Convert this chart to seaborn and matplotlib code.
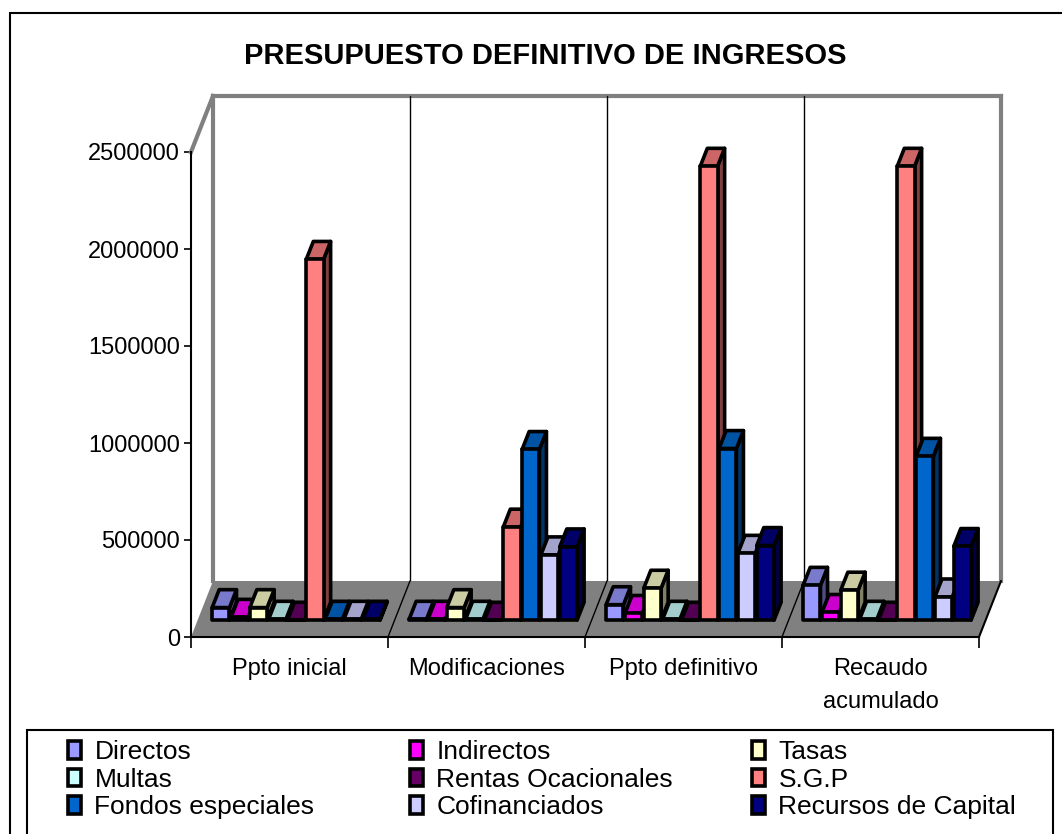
import numpy as np
import pandas as pd
import matplotlib
matplotlib.use("Agg")
import matplotlib.pyplot as plt
import seaborn as sns
from matplotlib.patches import Polygon, Rectangle, Patch
from matplotlib.ticker import FixedLocator

# ---------------- data ----------------
categories = ["Ppto inicial", "Modificaciones", "Ppto definitivo", "Recaudo\nacumulado"]
series = ["Directos", "Indirectos", "Tasas", "Multas", "Rentas Ocacionales",
          "S.G.P", "Fondos especiales", "Cofinanciados", "Recursos de Capital"]
directos = [65000, 5000, 80000, 180000]
indirectos = [15000, 5000, 35000, 40000]
tasas = [65000, 65000, 165000, 155000]
multas = [5000, 5000, 5000, 5000]
rentas = [0, 0, 0, 0]
sgp = [1860000, 480000, 2340000, 2340000]
fondos = [5000, 880000, 885000, 845000]
cofinanciados = [5000, 337000, 345000, 120000]
recursos = [5000, 378000, 385000, 380000]
yticks = [0, 500000, 1000000, 1500000, 2000000, 2500000]
colors = ["#9999FF", "#FF00FF", "#FFFFCC", "#CCFFFF", "#660066",
          "#FF8080", "#0066CC", "#CCCCFF", "#000080"]

values = [directos, indirectos, tasas, multas, rentas, sgp, fondos, cofinanciados, recursos]
df = pd.DataFrame([(c, s, v[i]) for s, v in zip(series, values) for i, c in enumerate(categories)],
                  columns=["cat", "serie", "val"])

# ---------------- style ----------------
sns.set_theme(style="white")
plt.rcParams["font.family"] = ["Liberation Sans", "DejaVu Sans"]
for k in ["text.color", "axes.labelcolor", "xtick.color", "ytick.color", "xtick.labelcolor", "ytick.labelcolor"]:
    plt.rcParams[k] = "black"

W, H = 1062, 834
fig = plt.figure(figsize=(W / 100, H / 100), dpi=100)
fig.patch.set_facecolor("white")

# front plane of the 3D box, in pixels
x_left, x_right, y_zero, y_top = 191, 979, 637, 152
ax = fig.add_axes([x_left / W, (H - y_zero) / H, (x_right - x_left) / W, (y_zero - y_top) / H])
ax.set_facecolor("none")
YMAX = 2500000
ax.set_xlim(-0.5, 3.5)
ax.set_ylim(0, YMAX)

# depth offsets (full depth) in data units
px_x = (x_right - x_left) / 4.0
px_y = (y_zero - y_top) / YMAX
DX = 22 / px_x
DY = 56 / px_y


def P(x, v, d):
    return (x + d * DX, v + d * DY)


# walls
gray = "#808080"
wall_kw = dict(color=gray, lw=3, clip_on=False, zorder=0.6, solid_capstyle="projecting")
ax.plot(*zip(P(-0.5, YMAX, 0), P(-0.5, YMAX, 1)), **wall_kw)
ax.plot(*zip(P(-0.5, 0, 1), P(-0.5, YMAX, 1)), **wall_kw)
ax.plot(*zip(P(-0.5, YMAX, 1), P(3.5, YMAX, 1)), **wall_kw)
ax.plot(*zip(P(3.5, 0, 1), P(3.5, YMAX, 1)), **wall_kw)
for b in [0.5, 1.5, 2.5]:
    ax.plot(*zip(P(b, 0, 1), P(b, YMAX, 1)), color="black", lw=1.0, zorder=0.7, clip_on=False)

# floor
floor = Polygon([P(-0.5, 0, 0), P(3.5, 0, 0), P(3.5, 0, 1), P(-0.5, 0, 1)],
                closed=True, facecolor=gray, edgecolor="none", zorder=1, clip_on=False)
ax.add_patch(floor)
for b in [0.5, 1.5, 2.5]:
    ax.plot(*zip(P(b, 0, 0), P(b, 0, 1)), color="black", lw=1.0, zorder=1.2, clip_on=False)
ax.plot(*zip(P(3.5, 0, 0), P(3.5, 0, 1)), color="black", lw=1.5, zorder=1.2, clip_on=False)

# bars
sns.barplot(data=df, x="cat", y="val", hue="serie", order=categories, hue_order=series,
            palette=colors, saturation=1, width=0.86, gap=0.08, edgecolor="black",
            linewidth=2.6, legend=False, ax=ax, errorbar=None)

D0, DD = 0.30, 0.32
bars = [p for p in ax.patches if isinstance(p, Rectangle) and p is not floor]
bars_sorted = sorted(bars, key=lambda p: p.get_x())


def shade(c, f):
    c = np.array(matplotlib.colors.to_rgb(c))
    return tuple(c * f)


for rank, p in enumerate(bars_sorted):
    x0, w, h = p.get_x(), p.get_width(), p.get_height()
    fc = p.get_facecolor()
    nx, ny = P(x0, 0, D0)
    p.set_x(nx)
    p.set_y(ny)
    p.set_clip_on(False)
    base = 3 + rank * 0.01
    p.set_zorder(base + 0.005)
    p.set_joinstyle("round")
    top = Polygon([(nx, ny + h), (nx + w, ny + h), (nx + w + DD * DX, ny + h + DD * DY),
                   (nx + DD * DX, ny + h + DD * DY)], closed=True,
                  facecolor=shade(fc, 0.8), edgecolor="black", lw=2.6, zorder=base,
                  clip_on=False, joinstyle="round")
    side = Polygon([(nx + w, ny), (nx + w + DD * DX, ny + DD * DY),
                    (nx + w + DD * DX, ny + h + DD * DY), (nx + w, ny + h)], closed=True,
                   facecolor=shade(fc, 0.5), edgecolor="black", lw=2.6, zorder=base,
                   clip_on=False, joinstyle="round")
    ax.add_patch(side)
    ax.add_patch(top)

ax.set_ylim(0, YMAX)
ax.set_xlim(-0.5, 3.5)

# axes decoration
for s in ["top", "right"]:
    ax.spines[s].set_visible(False)
for s in ["left", "bottom"]:
    ax.spines[s].set_visible(True)
    ax.spines[s].set_color("black")
    ax.spines[s].set_linewidth(1.5)
    ax.spines[s].set_zorder(2)

ax.set_yticks(yticks)
ax.set_yticklabels([str(t) for t in yticks], fontsize=17)
ax.tick_params(axis="y", direction="out", length=5, width=1.2, color="black", pad=3, left=True)
ax.set_xticks(range(len(categories)))
ax.set_xticklabels(categories, fontsize=17, linespacing=1.65, va="top")
ax.xaxis.set_minor_locator(FixedLocator([-0.5, 0.5, 1.5, 2.5, 3.5]))
ax.tick_params(axis="x", which="major", length=0, pad=15)
ax.tick_params(axis="x", which="minor", direction="out", length=8, width=1.2, color="black", bottom=True)
ax.set_xlabel("")
ax.set_ylabel("")
ax.grid(False)

# title
fig.text(545 / W, 1 - 56 / H, "PRESUPUESTO DEFINITIVO DE INGRESOS", ha="center", va="center",
         fontsize=21, fontweight="bold", color="black")

# outer chart border
fig.patches.append(Rectangle((10 / W, -0.05), 1.2, (H - 13) / H + 0.05, transform=fig.transFigure,
                             fill=False, edgecolor="black", lw=1.5, zorder=0))

# legend box
fig.patches.append(Rectangle((27 / W, -0.05), (1053 - 27) / W, (H - 730) / H + 0.05,
                             transform=fig.transFigure, fill=False, edgecolor="black", lw=1.5))

col_x = [68, 410, 752]
for ci in range(3):
    idx = [ci, ci + 3, ci + 6]
    handles = [Patch(facecolor=colors[i], edgecolor="black", lw=2.6, label=series[i]) for i in idx]
    fig.legend(handles=handles, loc="upper left",
               bbox_to_anchor=(col_x[ci] / W, 1 - 740 / H), frameon=False,
               fontsize=19, handlelength=0.5, handleheight=0.65, handletextpad=0.5,
               labelspacing=0.14, borderpad=0, borderaxespad=0)

fig.savefig("out.png", dpi=100, facecolor="white")
